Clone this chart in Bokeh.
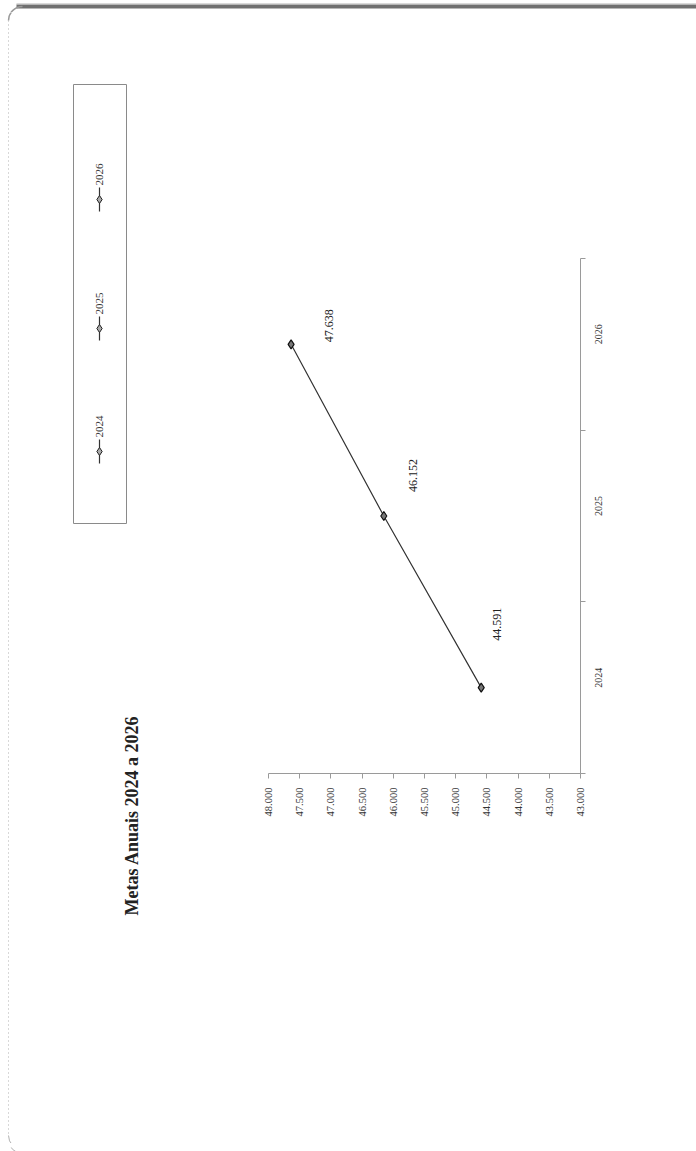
import math
from bokeh.plotting import figure
from bokeh.layouts import column, row
from bokeh.models import Range1d, LinearAxis, FixedTicker, ColumnDataSource, LabelSet
from bokeh.embed import file_html
from bokeh.resources import INLINE
from bokeh.core.properties import value

# ---------------- data ----------------
years = ["2024", "2025", "2026"]
metas = [44591, 46152, 47638]
value_ticks = [43000, 43500, 44000, 44500, 45000, 45500, 46000, 46500, 47000, 47500, 48000]
value_tick_labels = ["43.000", "43.500", "44.000", "44.500", "45.000", "45.500",
                     "46.000", "46.500", "47.000", "47.500", "48.000"]
title_text = "Metas Anuais 2024 a 2026"

# ---------------- layout (page pixels) ----------------
PW, PH = 696, 1151
TOP_H = 12              # strip with the page's top edge
BOT_H = 8               # strip with the page's bottom edge
LEFT_W = 250            # panel with title + legend
FL, FR, FT, FB = 268, 580, 258, 773   # plot frame in page px
MID_H = PH - TOP_H - BOT_H

SERIF = "Liberation Serif"
AX = "#9a9a9a"


def blank(w, h, x0, x1, y0, y1):
    f = figure(width=w, height=h, output_backend="svg", toolbar_location=None,
               x_range=Range1d(x0, x1), y_range=Range1d(y1, y0),
               x_axis_location=None, y_axis_location=None,
               min_border=0, min_border_left=0, min_border_right=0,
               min_border_top=0, min_border_bottom=0, frame_align=False)
    f.grid.visible = False
    f.outline_line_color = None
    f.background_fill_color = "white"
    f.border_fill_color = "white"
    return f


# ---- top strip: page edge ----
top = blank(PW, TOP_H, 0, PW, 0, TOP_H)
top.quad(left=[16], right=[PW], top=[4], bottom=[8], fill_color="#707070", line_color=None)
top.quad(left=[16], right=[PW], top=[3], bottom=[4], fill_color="#b5b5b5", line_color=None)
top.arc(x=[22], y=[20], radius=14, start_angle=math.pi / 2, end_angle=math.pi,
        line_color="#9a9a9a", line_width=1.5)

# ---- left panel: title, legend, page edge ----
left = blank(LEFT_W, MID_H, 0, LEFT_W, TOP_H, TOP_H + MID_H)
left.arc(x=[22], y=[20], radius=14, start_angle=math.pi / 2, end_angle=math.pi,
         line_color="#9a9a9a", line_width=1.5)
left.segment(x0=[8], y0=[20], x1=[8], y1=[1135], line_color="#b0b0b0", line_width=1,
             line_dash="1 3")
left.arc(x=[22], y=[1135], radius=14, start_angle=math.pi, end_angle=3 * math.pi / 2,
         line_color="#b0b0b0", line_width=1)

left.text(x=[131], y=[915], text=[title_text], angle=math.pi / 2,
          text_align="left", text_baseline="middle",
          text_font=value(SERIF), text_font_style="bold", text_font_size="18px",
          text_color="#222222")

left.quad(left=[73], right=[126], top=[84], bottom=[523], fill_color=None,
          line_color="#8a8a8a", line_width=1)
LEG_X = 99
legend_marker_y = [451, 328, 199]
left.segment(x0=[LEG_X] * 3, y0=[m - 12 for m in legend_marker_y],
             x1=[LEG_X] * 3, y1=[m + 12 for m in legend_marker_y],
             line_color="#333333", line_width=1.2)
left.scatter(x=[LEG_X] * 3, y=legend_marker_y, marker="diamond", size=8,
             fill_color="#aaaaaa", line_color="#222222", line_width=1)
left.text(x=[LEG_X] * 3, y=[m - 14 for m in legend_marker_y], text=years,
          angle=math.pi / 2, text_align="left", text_baseline="middle",
          text_font=value(SERIF), text_font_size="11px", text_color="#333333")

# ---- bottom strip: page edge ----
bottom = blank(PW, BOT_H, 0, PW, PH - BOT_H, PH)
bottom.arc(x=[22], y=[1135], radius=14, start_angle=math.pi, end_angle=3 * math.pi / 2,
           line_color="#b0b0b0", line_width=1)
bottom.segment(x0=[118], y0=[1148], x1=[PW], y1=[1148], line_color="#bdbdbd",
               line_width=1, line_dash="5 3")

# ---- chart ----
CW = PW - LEFT_W
p = figure(width=CW, height=MID_H, output_backend="svg", toolbar_location=None,
           x_range=Range1d(value_ticks[-1], value_ticks[0]),
           y_range=Range1d(0, len(years)),
           x_axis_location=None, y_axis_location=None,
           min_border_left=FL - LEFT_W, min_border_right=PW - FR,
           min_border_top=FT - TOP_H, min_border_bottom=PH - BOT_H - FB,
           frame_align=False)
p.grid.visible = False
p.outline_line_color = None
p.background_fill_color = "white"
p.border_fill_color = "white"

xaxis = LinearAxis(ticker=FixedTicker(ticks=value_ticks, minor_ticks=[]),
                   major_label_overrides={t: l for t, l in zip(value_ticks, value_tick_labels)},
                   major_label_orientation=math.pi / 2,
                   axis_line_color=AX, major_tick_line_color=AX,
                   major_tick_in=0, major_tick_out=5,
                   minor_tick_line_color=None,
                   major_label_standoff=9,
                   major_label_text_font=SERIF, major_label_text_font_size="10.5px",
                   major_label_text_color="#333")
p.add_layout(xaxis, "below")

cat_pos = [i + 0.5 for i in range(len(years))]
yaxis = LinearAxis(ticker=FixedTicker(ticks=cat_pos, minor_ticks=list(range(len(years) + 1))),
                   major_label_overrides=dict(zip(cat_pos, years)),
                   major_label_orientation=math.pi / 2,
                   axis_line_color=AX,
                   major_tick_line_color=None, major_tick_in=0, major_tick_out=0,
                   minor_tick_line_color=AX, minor_tick_in=0, minor_tick_out=5,
                   major_label_standoff=13,
                   major_label_text_font=SERIF, major_label_text_font_size="10px",
                   major_label_text_color="#333")
p.add_layout(yaxis, "right")

label_dx = [16, 29, 38]
label_dy = [47, 24, 2]
src = ColumnDataSource(dict(
    x=metas, y=cat_pos,
    label=[f"{v:,}".replace(",", ".") for v in metas],
    dx=label_dx, dy=label_dy))
p.line("x", "y", source=src, line_color="#333333", line_width=1.2)
p.scatter("x", "y", source=src, marker="diamond", size=9,
          fill_color="#777777", line_color="#111111", line_width=1.2)
p.add_layout(LabelSet(x="x", y="y", text="label", source=src,
                      x_offset="dx", y_offset="dy", angle=math.pi / 2,
                      text_align="left", text_baseline="middle",
                      text_font=value(SERIF), text_font_size=value("12px"),
                      text_color="#222222"))

page = column(top, row(left, p, spacing=0), bottom, spacing=0)

open("out.html", "w").write(file_html(page, INLINE))
